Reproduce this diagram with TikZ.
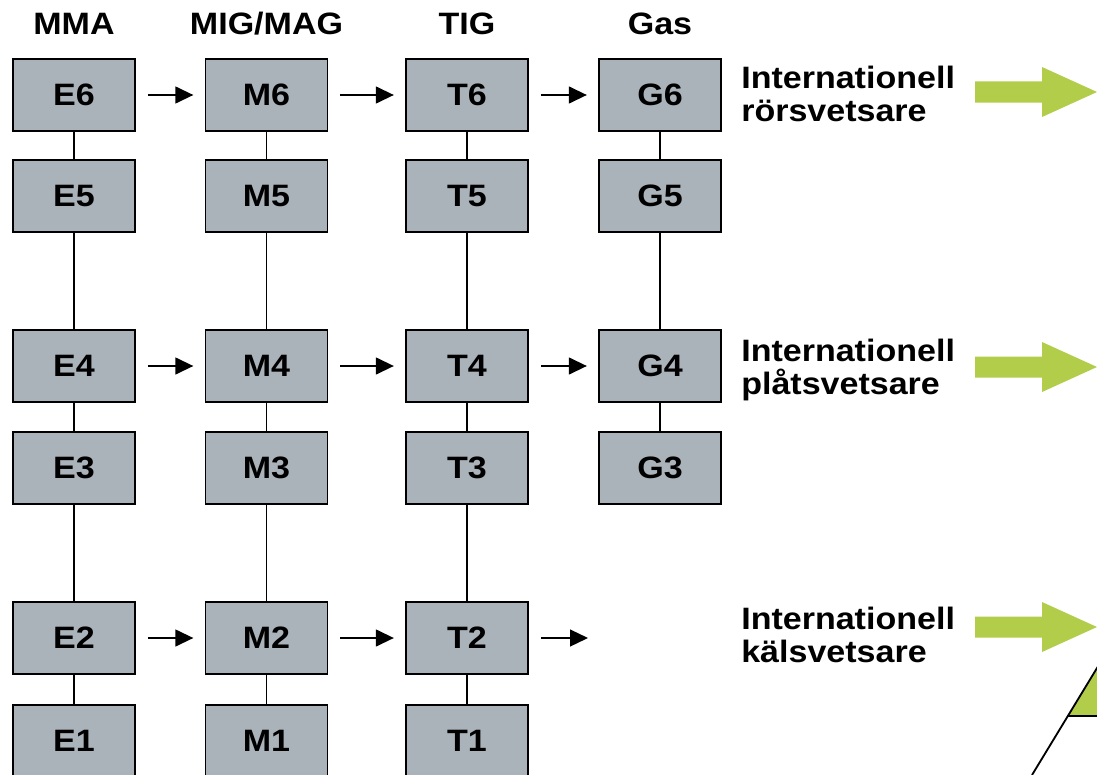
\documentclass[tikz,border=0pt]{standalone}
\usepackage{fontspec}
\setmainfont{Liberation Sans}[FakeStretch=1.1]
\usetikzlibrary{arrows.meta}
\definecolor{boxgrey}{RGB}{170,178,186}
\definecolor{lime}{RGB}{178,205,74}
\tikzset{
level/.style={draw=black, line width=1.3pt, fill=boxgrey, minimum width=3.05cm, minimum height=1.78cm, inner sep=0pt, font=\bfseries\fontsize{22}{24}\selectfont},
colhead/.style={anchor=base, inner sep=0pt, font=\bfseries\fontsize{22}{24}\selectfont},
title/.style={anchor=north west, align=left, inner sep=0pt, font=\bfseries\fontsize{22}{23.5}\selectfont},
link/.style={line width=1.2pt},
go/.style={line width=1.4pt, -{Triangle[length=0.45cm,width=0.42cm]}, shorten <=0.3cm, shorten >=0.28cm},
bigarrow/.pic={
  \fill[lime] (0,-10.5) -- (67,-10.5) -- (67,-25) -- (122,0) -- (67,25) -- (67,10.5) -- (0,10.5) -- cycle;
  }
}
\begin{document}
\begin{tikzpicture}[x=0.025cm, y=-0.025cm]
\useasboundingbox (0,0) rectangle (1097,775);
\clip (0,0) rectangle (1097,775);
% column heads
\node[colhead] (hMMA) at (74,35) {MMA};
\node[colhead] (hMIG) at (266.5,35) {MIG/MAG};
\node[colhead] (hTIG) at (467,35) {TIG};
\node[colhead] (hGas) at (660,35) {Gas};
% MMA
\node[level] (E6) at (74,95) {E6};
\node[level] (E5) at (74,196) {E5};
\node[level] (E4) at (74,366) {E4};
\node[level] (E3) at (74,468) {E3};
\node[level] (E2) at (74,638) {E2};
\node[level] (E1) at (74,741) {E1};
% MIG/MAG
\node[level] (M6) at (266.5,95) {M6};
\node[level] (M5) at (266.5,196) {M5};
\node[level] (M4) at (266.5,366) {M4};
\node[level] (M3) at (266.5,468) {M3};
\node[level] (M2) at (266.5,638) {M2};
\node[level] (M1) at (266.5,741) {M1};
% TIG
\node[level] (T6) at (467,95) {T6};
\node[level] (T5) at (467,196) {T5};
\node[level] (T4) at (467,366) {T4};
\node[level] (T3) at (467,468) {T3};
\node[level] (T2) at (467,638) {T2};
\node[level] (T1) at (467,741) {T1};
% Gas
\node[level] (G6) at (660,95) {G6};
\node[level] (G5) at (660,196) {G5};
\node[level] (G4) at (660,366) {G4};
\node[level] (G3) at (660,468) {G3};
% vertical links
\draw[link] (E6) -- (E5) (E5) -- (E4) (E4) -- (E3) (E3) -- (E2) (E2) -- (E1);
\draw[link] (M6) -- (M5) (M5) -- (M4) (M4) -- (M3) (M3) -- (M2) (M2) -- (M1);
\draw[link] (T6) -- (T5) (T5) -- (T4) (T4) -- (T3) (T3) -- (T2) (T2) -- (T1);
\draw[link] (G6) -- (G5) (G5) -- (G4) (G4) -- (G3);
% arrows between methods
\draw[go] (E6) -- (M6);
\draw[go] (M6) -- (T6);
\draw[go] (T6) -- (G6);
\draw[go] (E4) -- (M4);
\draw[go] (M4) -- (T4);
\draw[go] (T4) -- (G4);
\draw[go] (E2) -- (M2);
\draw[go] (M2) -- (T2);
\coordinate (T2out) at (588,638);
\draw[go, shorten >=0pt] (T2) -- (T2out);
% titles
\node[title] (pipe) at (741,66) {Internationell\\rörsvetsare};
\node[title] (plate) at (741,339) {Internationell\\plåtsvetsare};
\node[title] (fillet) at (741,607) {Internationell\\kälsvetsare};
\pic at (975,92) {bigarrow};
\pic at (975,367) {bigarrow};
\pic at (975,627) {bigarrow};
% pyramid
\fill[lime] (1067.8,716) -- (1129.5,614.5) -- (1191,716) -- cycle;
\draw[line width=1.3pt] (1032,775) -- (1129.5,614.5);
\draw[line width=1.3pt] (1067.8,716) -- (1191,716);
\end{tikzpicture}
\end{document}
